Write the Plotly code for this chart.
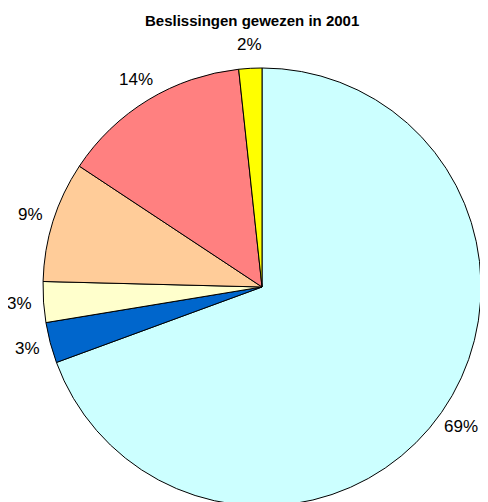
import math
import plotly.graph_objects as go

categories = ["Cat A", "Cat B", "Cat C", "Cat D", "Cat E", "Cat F"]
values = [69.4, 3.0, 3.0, 8.9, 14.0, 1.7]
colors = ["#CCFFFF", "#0066CC", "#FFFFCC", "#FFCC99", "#FF8080", "#FFFF00"]
title_text = "Beslissingen gewezen in 2001"

W, H = 488, 502
dom_x = [0.0717, 0.9693]
dom_y = [0.0080, 0.8805]

fig = go.Figure(go.Pie(
    labels=categories,
    values=values,
    sort=False,
    direction="clockwise",
    rotation=0,
    marker=dict(colors=colors, line=dict(color="black", width=1)),
    textinfo="none",
    domain=dict(x=dom_x, y=dom_y),
    showlegend=False,
    hoverinfo="label+percent",
))

# label positions derived from the pie geometry and the data
cx = (dom_x[0] + dom_x[1]) / 2 * W
cy = (1 - (dom_y[0] + dom_y[1]) / 2) * H
R = min((dom_x[1] - dom_x[0]) * W, (dom_y[1] - dom_y[0]) * H) / 2
r_lab = R + 24
total = sum(values)
cum = 0.0
annotations = []
for v in values:
    mid = (cum + v / 2) / total * 2 * math.pi
    cum += v
    px = cx + r_lab * math.sin(mid)
    py = cy - r_lab * math.cos(mid)
    annotations.append(dict(
        x=px / W, y=1 - py / H, xref="paper", yref="paper",
        text="{:.0f}%".format(v / total * 100),
        showarrow=False, xanchor="center", yanchor="middle",
        font=dict(family="Liberation Sans, Arial", size=17, color="black"),
    ))

annotations.append(dict(
    x=243.5 / W, y=1 - 13 / H, xref="paper", yref="paper",
    text="<b>" + title_text + "</b>", showarrow=False,
    xanchor="center", yanchor="middle",
    font=dict(family="Liberation Sans, Arial", size=15, color="black"),
))

fig.update_layout(
    width=W, height=H,
    margin=dict(l=0, r=0, t=0, b=0),
    paper_bgcolor="white",
    annotations=annotations,
)

fig.write_html("out.html")
